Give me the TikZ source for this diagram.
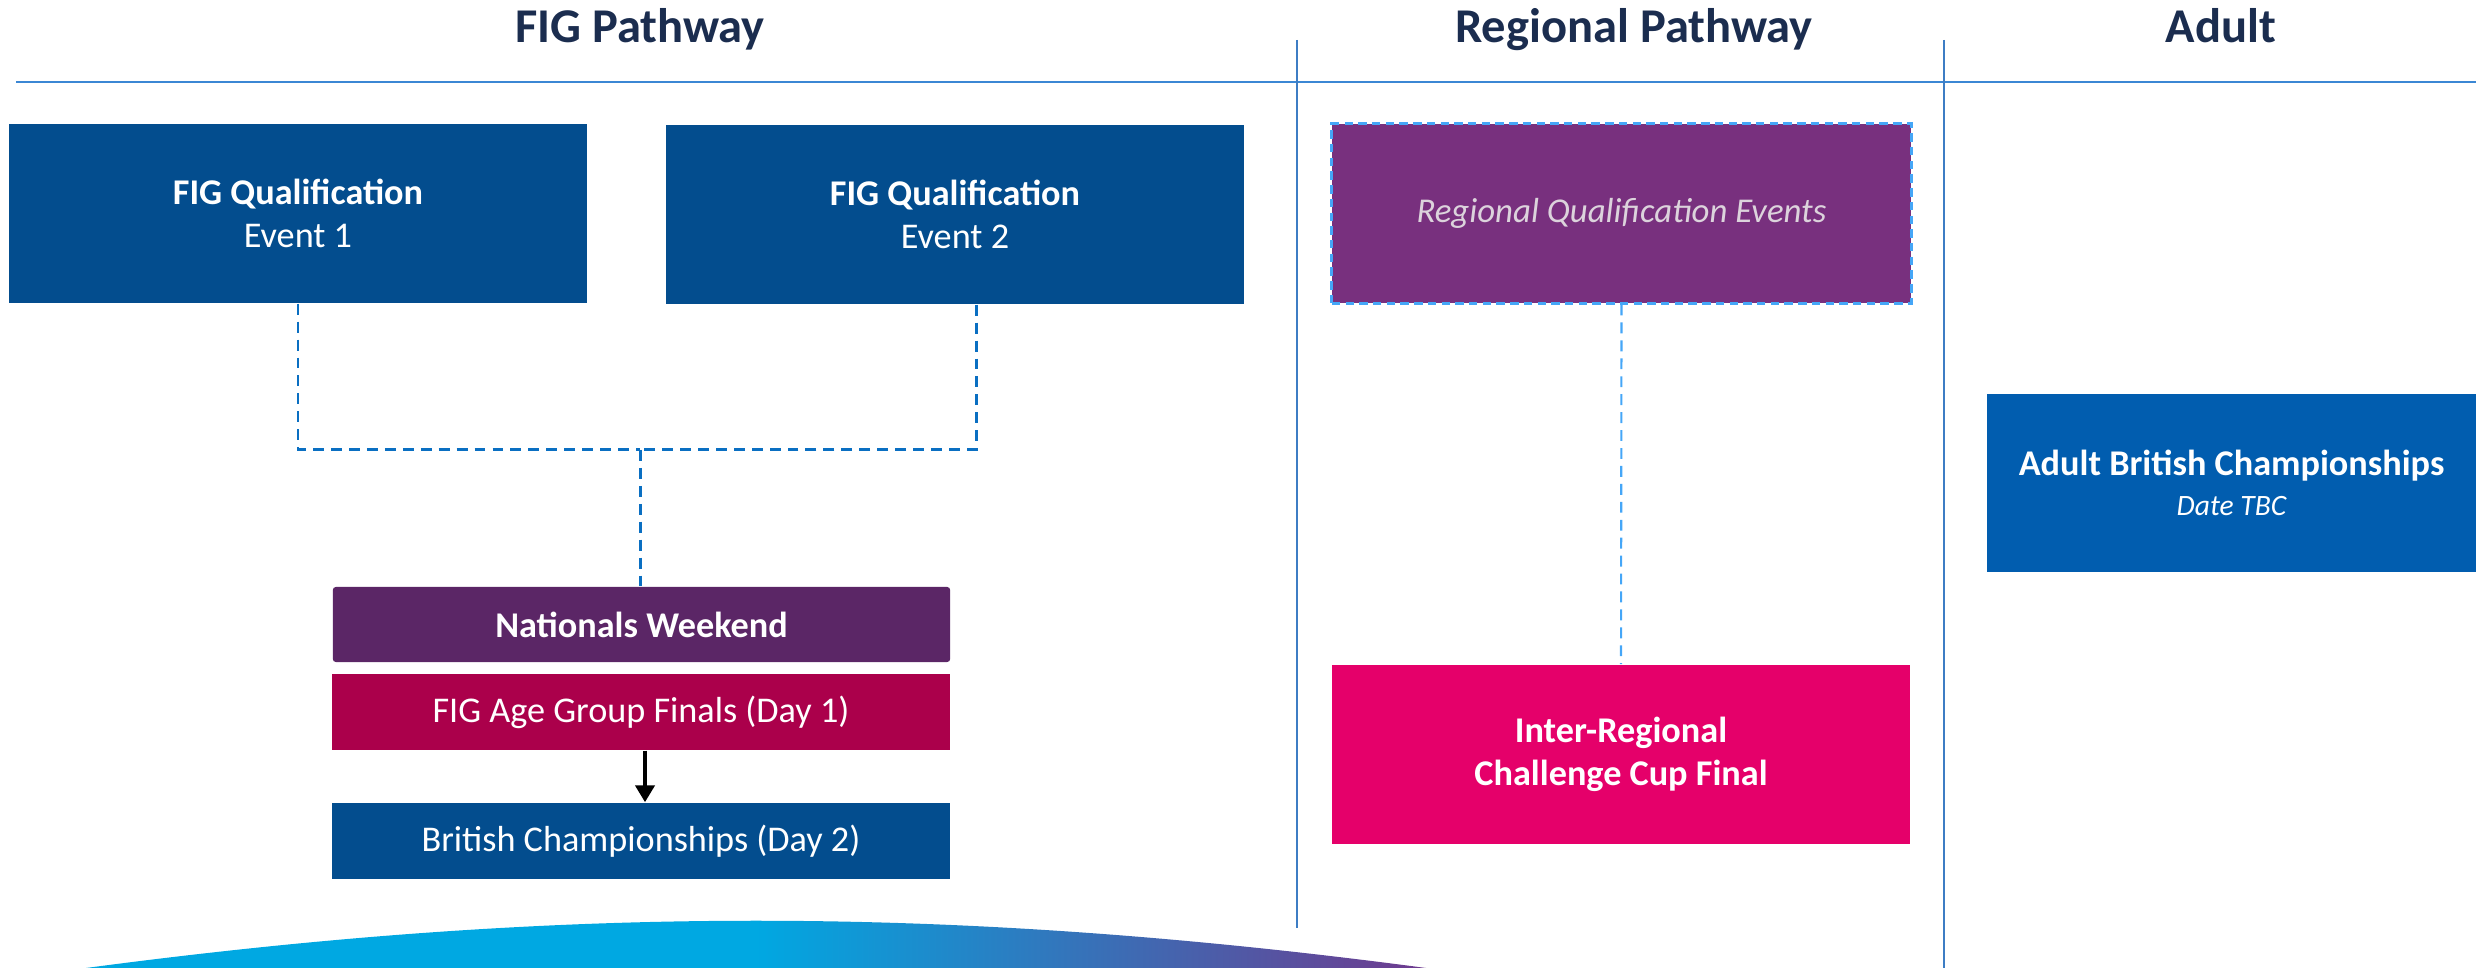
\documentclass[tikz,border=0pt]{standalone}
\usepackage{fontspec}
\setmainfont{Carlito}
\usetikzlibrary{positioning,arrows.meta}

\definecolor{headnavy}{HTML}{1B2D4F}
\definecolor{ruleblue}{HTML}{3B87D4}
\definecolor{divblue}{HTML}{3D7DC4}
\definecolor{figblue}{HTML}{034D8E}
\definecolor{regpurple}{HTML}{78307E}
\definecolor{regdash}{HTML}{45A6F7}
\definecolor{regtext}{HTML}{DCD3DC}
\definecolor{natpurple}{HTML}{5B2666}
\definecolor{agered}{HTML}{AB004B}
\definecolor{interpink}{HTML}{E5006A}
\definecolor{adultblue}{HTML}{015DAF}
\definecolor{joinblue}{HTML}{0A6FC2}
\definecolor{skycyan}{HTML}{00A8E2}
\definecolor{plumend}{HTML}{6F3A8E}

\tikzset{
  coltitle/.style={anchor=base,text=headnavy,font=\fontsize{13.8}{16}\selectfont\bfseries},
  evbox/.style={fill=#1,text=white,inner sep=0pt,align=center,
    minimum width=5.78cm,minimum height=1.79cm,
    font=\fontsize{10.3}{12.2}\selectfont},
  daybox/.style={fill=#1,text=white,inner sep=0pt,align=center,
    minimum width=6.18cm,minimum height=0.76cm,
    font=\fontsize{10.3}{12.2}\selectfont},
  figjoin/.style={draw=joinblue,line width=0.85pt,dash pattern=on 3.1pt off 2pt},
  regjoin/.style={draw=regdash,line width=0.6pt,dash pattern=on 3.1pt off 2pt},
  divider/.style={draw=divblue,line width=0.45pt}
}

\begin{document}
\begin{tikzpicture}[x=0.01cm,y=-0.01cm,>={Triangle[length=1.7mm,width=1.9mm]}]
  \useasboundingbox (0,0) rectangle (2476,968);

  % column headings
  \node[coltitle] (figT) at (640,43) {FIG Pathway};
  \node[coltitle] (regT) at (1634,43) {Regional Pathway};
  \node[coltitle] (adultT) at (2221,43) {Adult};

  % rule and dividers
  \draw[draw=ruleblue,line width=0.6pt] (16,82) -- (2476,82);
  \draw[divider] (1297,40) -- (1297,928);
  \draw[divider] (1944,40) -- (1944,968);

  % FIG pathway
  \node[evbox=figblue] (qual1) at (298,213.5) {\textbf{FIG Qualification}\\Event 1};
  \node[evbox=figblue] (qual2) at (955,214.5) {\textbf{FIG Qualification}\\Event 2};

  \node[daybox=natpurple,minimum width=6.17cm,minimum height=0.75cm,rounded corners=0.03cm]
    (natwk) at (641.5,624.5) {\textbf{Nationals Weekend}};
  \node[daybox=agered] (agegrp) at (641,712) {FIG Age Group Finals (Day 1)};
  \node[daybox=figblue] (britch) at (641,841) {British Championships (Day 2)};

  \coordinate (fork) at (640,450);
  \draw[figjoin] (qual1.south) |- (fork);
  \draw[figjoin] ([xshift=0.21cm]qual2.south) |- (fork);
  \draw[figjoin] (fork) -- (fork |- natwk.north);

  \draw[->,line width=1.3pt] ([xshift=0.04cm]agegrp.south) -- ([xshift=0.04cm]britch.north);

  % regional pathway
  \node[evbox=regpurple,text=regtext,minimum width=5.79cm,draw=regdash,line width=0.85pt,
    dash pattern=on 2.4pt off 1.5pt,font=\fontsize{9.9}{12}\selectfont\itshape]
    (regq) at (1621.5,213.5) {Regional Qualification Events};
  \node[evbox=interpink,font=\fontsize{10.3}{12.2}\selectfont\bfseries]
    (intreg) at (1621,754.5) {Inter-Regional\\Challenge Cup Final};
  \draw[regjoin] (regq.south) -- (intreg.north);

  % adult
  \node[evbox=adultblue,minimum width=4.89cm,minimum height=1.78cm] (adultbc) at (2231.5,483)
    {\textbf{Adult British Championships}\\[-1pt]{\fontsize{8.4}{10}\selectfont\itshape Date TBC}};

  % swoosh at the bottom
  \shade[left color=skycyan,right color=plumend,middle color=skycyan]
    (86,968) .. controls (560,905) and (952,905) .. (1426,968) -- cycle;
\end{tikzpicture}
\end{document}
